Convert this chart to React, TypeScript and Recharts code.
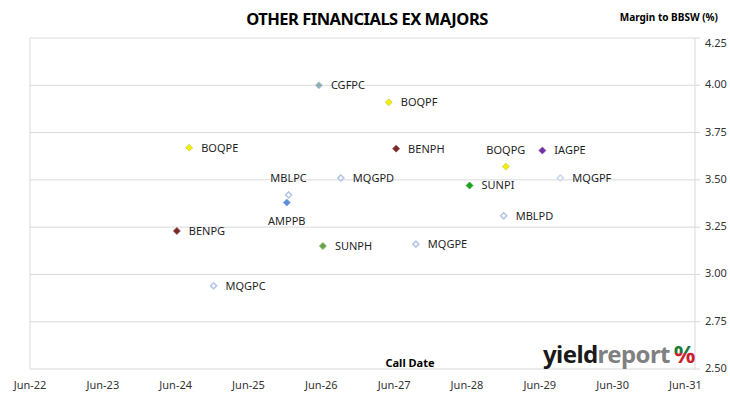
import React from 'react';
import {
  CartesianGrid,
  ReferenceLine,
  Scatter,
  ScatterChart,
  XAxis,
  YAxis,
} from 'recharts';

const ISSUERS = [
  'CGFPC', 'BOQPF', 'BOQPE', 'BENPH', 'MQGPD', 'MBLPC', 'AMPPB', 'BENPG',
  'SUNPH', 'MQGPE', 'MQGPC', 'BOQPG', 'IAGPE', 'MQGPF', 'SUNPI', 'MBLPD',
];
const CALL_DATES = [
  '2026-06-02', '2027-05-18', '2024-08-21', '2027-06-24', '2026-09-20',
  '2026-01-01', '2025-12-23', '2024-06-20', '2026-06-22', '2027-10-01',
  '2024-12-21', '2028-12-25', '2029-06-26', '2029-09-24', '2028-06-26',
  '2028-12-14',
];
const MARGINS = [
  4.0, 3.91, 3.67, 3.665, 3.51, 3.42, 3.38, 3.23,
  3.15, 3.16, 2.94, 3.57, 3.655, 3.51, 3.47, 3.31,
];
const Y_TICKS = [2.5, 2.75, 3.0, 3.25, 3.5, 3.75, 4.0, 4.25];

const DAY = 86400000;
const X_MIN = Date.UTC(2022, 5, 15);
const X_MAX = X_MIN + 3333 * DAY;
const X_TICKS = Array.from({ length: 10 }, (_, i) => X_MIN + i * 365 * DAY);
const MONTHS = ['Jan', 'Feb', 'Mar', 'Apr', 'May', 'Jun', 'Jul', 'Aug', 'Sep', 'Oct', 'Nov', 'Dec'];

// marker look per issuer
const STYLE: Record<string, { fill: string; stroke: string; hollow?: boolean }> = {
  CGFPC: { fill: '#8FAFB4', stroke: '#A9C1C5' },
  BOQPF: { fill: '#F2F200', stroke: '#C9C96A' },
  BOQPE: { fill: '#F2F200', stroke: '#C9C96A' },
  BOQPG: { fill: '#F2F200', stroke: '#C9C96A' },
  BENPH: { fill: '#7A2A2A', stroke: '#8E4A4A' },
  BENPG: { fill: '#7A2A2A', stroke: '#8E4A4A' },
  MQGPD: { fill: '#FFFFFF', stroke: '#B4C6E7', hollow: true },
  MBLPC: { fill: '#FFFFFF', stroke: '#B4C6E7', hollow: true },
  MQGPE: { fill: '#FFFFFF', stroke: '#B4C6E7', hollow: true },
  MQGPC: { fill: '#FFFFFF', stroke: '#B4C6E7', hollow: true },
  MBLPD: { fill: '#FFFFFF', stroke: '#B4C6E7', hollow: true },
  MQGPF: { fill: '#FFFFFF', stroke: '#CDD6EC', hollow: true },
  AMPPB: { fill: '#5B8FD5', stroke: '#7AA3DD' },
  SUNPH: { fill: '#6AA24A', stroke: '#7FB163' },
  SUNPI: { fill: '#1AA01A', stroke: '#3CB03C' },
  IAGPE: { fill: '#7030A0', stroke: '#8650AE' },
};

// labels not sitting to the right of their marker
const LABEL_POS: Record<string, 'above' | 'below'> = {
  MBLPC: 'above',
  AMPPB: 'below',
  BOQPG: 'above',
};

const data = ISSUERS.map((name, i) => {
  const [y, m, d] = CALL_DATES[i].split('-').map(Number);
  return { name, x: Date.UTC(y, m - 1, d), y: MARGINS[i] };
});

const FONT = '"Noto Sans", sans-serif';

const Diamond = (props: any) => {
  const { cx, cy, payload } = props;
  const s = STYLE[payload.name];
  const r = s.hollow ? 3 : 3.5;
  const pos = LABEL_POS[payload.name];
  let tx = cx + 12;
  let ty = cy + 1;
  let anchor: 'start' | 'middle' = 'start';
  if (pos === 'above') {
    tx = cx;
    ty = cy - 16;
    anchor = 'middle';
  } else if (pos === 'below') {
    tx = cx;
    ty = cy + 19;
    anchor = 'middle';
  }
  return (
    <g>
      <path
        d={`M${cx},${cy - r} L${cx + r},${cy} L${cx},${cy + r} L${cx - r},${cy} Z`}
        fill={s.fill}
        stroke={s.stroke}
        strokeWidth={s.hollow ? 1.6 : 0.8}
      />
      <text
        x={tx}
        y={ty}
        textAnchor={anchor}
        dominantBaseline="middle"
        fontSize={11}
        fontFamily={FONT}
        fill="#1f1f1f"
      >
        {payload.name}
      </text>
    </g>
  );
};

const YTick = (props: any) => {
  const { x, y, payload } = props;
  const dy = payload.value === 4.25 ? 6 : 0;
  return (
    <text x={x} y={y + dy} dominantBaseline="middle" fontSize={11} fontFamily={FONT} fill="#333">
      {payload.value.toFixed(2)}
    </text>
  );
};

const formatDate = (v: number) => {
  const d = new Date(v);
  return `${MONTHS[d.getUTCMonth()]}-${String(d.getUTCFullYear()).slice(2)}`;
};

const App = () => {
  return (
    <div style={{ position: 'absolute', left: 0, top: 0, width: 730, height: 399, background: '#fff' }}>
      <ScatterChart
        width={730}
        height={399}
        margin={{ top: 38, right: 0, bottom: 0, left: 30 }}
      >
        <CartesianGrid vertical={false} stroke="#D9D9D9" />
        <XAxis
          type="number"
          dataKey="x"
          domain={[X_MIN, X_MAX]}
          ticks={X_TICKS}
          tickFormatter={formatDate}
          axisLine={false}
          tickLine={false}
          tickMargin={6}
          height={30}
          tick={{ fontSize: 11, fontFamily: FONT, fill: '#333' }}
          allowDataOverflow
        />
        <YAxis
          type="number"
          dataKey="y"
          orientation="right"
          domain={[2.5, 4.25]}
          ticks={Y_TICKS}
          width={35}
          tickSize={5}
          tickMargin={5}
          axisLine={{ stroke: '#D9D9D9' }}
          tickLine={{ stroke: '#D9D9D9' }}
          tick={<YTick />}
          allowDataOverflow
        />
        <ReferenceLine x={X_MIN} stroke="#D9D9D9" />
        <Scatter data={data} shape={<Diamond />} isAnimationActive={false} />
      </ScatterChart>
      <svg
        width={730}
        height={399}
        style={{ position: 'absolute', left: 0, top: 0, pointerEvents: 'none' }}
      >
        <defs>
          <linearGradient id="pct" x1="0" y1="0" x2="0" y2="1">
            <stop offset="0.5" stopColor="#1F7A3A" />
            <stop offset="0.5" stopColor="#C8202C" />
          </linearGradient>
        </defs>
        <text x={367} y={25} textAnchor="middle" fontSize={16.5} fontWeight="bold" fontFamily={FONT} letterSpacing={-0.5} fill="#000">
          OTHER FINANCIALS EX MAJORS
        </text>
        <text x={718} y={21} textAnchor="end" fontSize={10} fontWeight="bold" fontFamily={FONT} fill="#000">
          Margin to BBSW (%)
        </text>
        <text x={410} y={367} textAnchor="middle" fontSize={11} fontWeight="bold" fontFamily={FONT} fill="#000">
          Call Date
        </text>
        <text x={543} y={363} fontSize={24} fontWeight="bold" fontFamily={FONT} letterSpacing={-0.6}>
          <tspan fill="#1a1a1a">yield</tspan>
          <tspan fill="#808080">report</tspan>
          <tspan fill="url(#pct)" dx={4}>%</tspan>
        </text>
      </svg>
    </div>
  );
};

export default App;
